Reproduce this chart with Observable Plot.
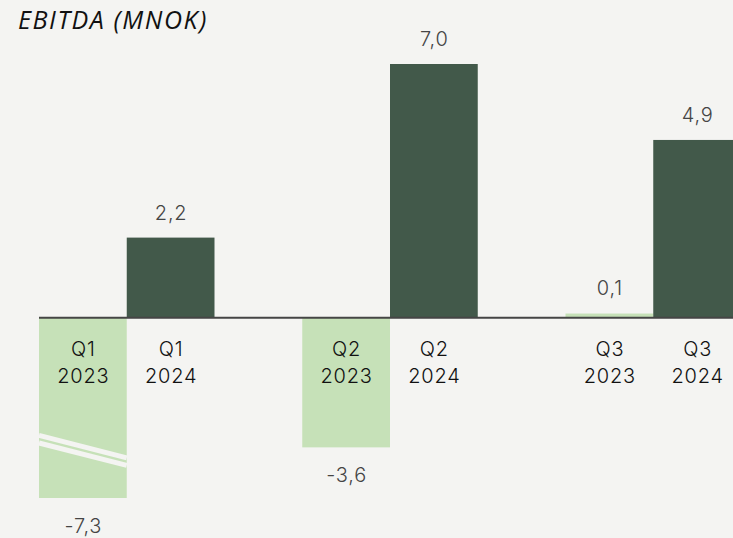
<!DOCTYPE html>
<html><head><meta charset="utf-8">
<script src="https://cdn.jsdelivr.net/npm/d3@7"></script>
<script src="https://cdn.jsdelivr.net/npm/@observablehq/plot@0.6"></script>
<style>
html,body{margin:0;padding:0;background:#f4f4f2;overflow:hidden;width:733px;height:538px}
#wrap{position:relative;width:733px;height:538px;overflow:hidden}
#title{position:absolute;left:18px;top:2px;font-family:"Open Sans";font-style:italic;font-size:25px;color:#111;letter-spacing:1.6px;z-index:2}
#chart{position:absolute;left:0;top:0;width:741px}
#chart svg{max-width:none !important}
#chart text{letter-spacing:0.8px}
</style></head><body><div id="wrap"><div id="title">EBITDA (MNOK)</div><div id="chart"></div></div>
<script>
const quarters = ["Q1", "Q2", "Q3"];
const years = ["2023", "2024"];
const ebitda2023 = [-7.3, -3.6, 0.1];
const ebitda2024 = [2.2, 7.0, 4.9];
const yearColors = ["#c6e1b8", "#42594a"];
// axis-break marker on the truncated Q1 2023 bar (value units at left/right bar edge)
const breakLines = [[-3.27, -3.89], [-3.48, -4.10]];

const rows = [];
const domain = [];
quarters.forEach((q, i) => {
  [ebitda2023[i], ebitda2024[i]].forEach((v, j) => {
    const key = q + " " + years[j];
    rows.push({q, year: years[j], key, value: v});
    domain.push(key);
  });
  if (i < quarters.length - 1) domain.push("gap" + i);
});
const fmt = v => v.toFixed(1).replace(".", ",");

const chart = Plot.plot({
  width: 741,
  height: 538,
  marginLeft: 39,
  marginRight: 0,
  marginTop: 64,
  marginBottom: 40,
  style: {background: "transparent", fontFamily: "Inter, 'Noto Sans', sans-serif", fontSize: "20px", maxWidth: "none"},
  x: {domain, padding: 0, round: false, axis: null},
  y: {domain: [-5, 7], clamp: true, axis: null},
  color: {domain: years, range: yearColors},
  marks: [
    Plot.barY(rows, {x: "key", y1: 0, y2: "value", fill: "year", inset: 0}),
    (index, scales) => {
      const {x, y} = scales;
      const x0 = x("Q1 2023"), x1 = x0 + x.bandwidth();
      const g = d3.create("svg:g");
      for (const [a, b] of breakLines) {
        g.append("line").attr("x1", x0).attr("x2", x1).attr("y1", y(a)).attr("y2", y(b))
          .attr("stroke", "#f4f4f2").attr("stroke-width", 5);
      }
      return g.node();
    },
    Plot.ruleY([0], {stroke: "#454545", strokeWidth: 2}),
    Plot.text(rows, {x: "key", y: "value", text: d => fmt(d.value), fill: "#454545", fontSize: 20, fontWeight: 350,
      filter: d => d.value >= 0, dy: -25}),
    Plot.text(rows, {x: "key", y: "value", text: d => fmt(d.value), fill: "#454545", fontSize: 20, fontWeight: 350,
      filter: d => d.value < 0, dy: 28}),
    Plot.text(rows, {x: "key", y: 0, text: "q", fill: "#111", fontSize: 20, fontWeight: 350, dy: 32}),
    Plot.text(rows, {x: "key", y: 0, text: "year", fill: "#111", fontSize: 20, fontWeight: 350, dy: 59})
  ]
});
document.getElementById("chart").appendChild(chart);
</script>
</body></html>
